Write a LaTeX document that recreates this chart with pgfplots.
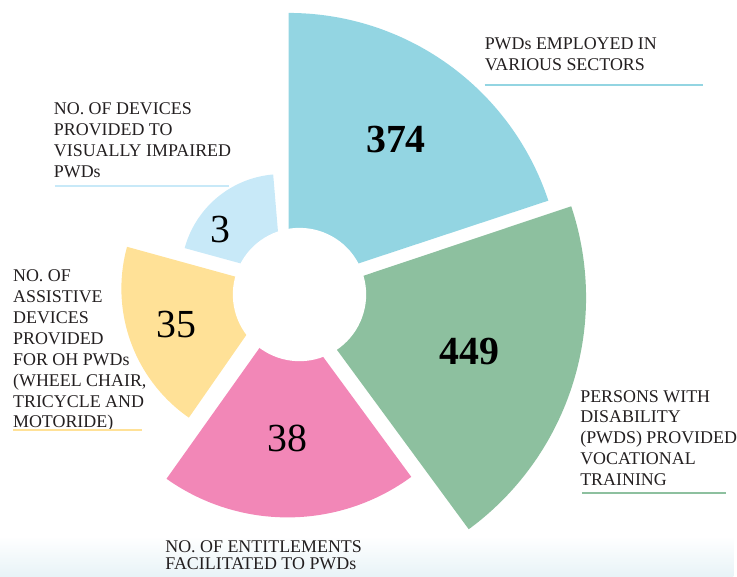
\documentclass[border=0pt]{standalone}
\usepackage{fontspec}
\setmainfont{Liberation Serif}
\usepackage{pgfplots}
\pgfplotsset{compat=1.18}
\definecolor{cblue}{RGB}{147,213,226}
\definecolor{cgreen}{RGB}{141,192,159}
\definecolor{cpink}{RGB}{242,135,183}
\definecolor{cyellow}{RGB}{255,225,151}
\definecolor{clblue}{RGB}{200,233,248}
\definecolor{cband}{RGB}{232,243,247}
\definecolor{ctext}{RGB}{35,31,32}
% sector: colour, vertex x, vertex y, start angle, end angle, radius
\newcommand\sector[6]{%
  \addplot[fill=#1, draw=none, domain=#4:#5, samples=90, variable=\t]
    ({#2+#6*cos(\t)},{#3+#6*sin(\t)}) -- (axis cs:#2,#3) -- cycle;}
\begin{document}
\begin{tikzpicture}
\begin{axis}[scale only axis, width=737pt, height=579pt,
  xmin=0, xmax=737, ymin=0, ymax=579, hide axis, clip=false]
\path (rel axis cs:0,0) rectangle (rel axis cs:1,1);
\fill[top color=white, bottom color=cband, draw=none] (axis cs:0,0) rectangle (axis cs:737,40);
% radial bars (value shown as label; radius as drawn)
\sector{cblue}{290}{291}{18.3}{90}{275}
\sector{cgreen}{300}{280}{-53.7}{18.5}{289}
\sector{cpink}{289}{269}{-125.4}{-53.7}{210}
\sector{cyellow}{280}{289}{164.6}{235.2}{158}
\sector{clblue}{283}{303}{94.8}{164.7}{101}
\addplot[fill=white, draw=none, domain=0:360, samples=90, variable=\t]
  ({301+67*cos(\t)},{283+67*sin(\t)}) -- cycle;
% values
\node[font={\fontsize{40}{40}\selectfont\bfseries}, text=black] at (axis cs:398,439) {374};
\node[font={\fontsize{40}{40}\selectfont\bfseries}, text=black] at (axis cs:472,226) {449};
\node[font={\fontsize{40}{40}\selectfont}, text=black] at (axis cs:289,138) {38};
\node[font={\fontsize{40}{40}\selectfont}, text=black] at (axis cs:177,253) {35};
\node[font={\fontsize{40}{40}\selectfont}, text=black] at (axis cs:222,348) {3};
% labels
\tikzset{lab/.style={anchor=north west, inner sep=0pt, align=left, text=ctext,
  font={\fontsize{18}{21}\selectfont}}}
\node[lab] at (axis cs:487,541) {PWDs EMPLOYED IN\\VARIOUS SECTORS};
\draw[cblue, line width=2pt] (axis cs:487,494) -- (axis cs:707,494);
\node[lab] at (axis cs:54,476) {NO. OF DEVICES\\PROVIDED TO\\VISUALLY IMPAIRED\\PWDs};
\draw[clblue, line width=2pt] (axis cs:55,392) -- (axis cs:230,392);
\node[lab] at (axis cs:13,308) {NO. OF\\ASSISTIVE\\DEVICES\\PROVIDED\\FOR OH PWDs\\(WHEEL CHAIR,\\TRICYCLE AND\\MOTORIDE)};
\draw[cyellow, line width=2pt] (axis cs:13,147) -- (axis cs:143,147);
\node[lab] at (axis cs:583,187) {PERSONS WITH\\DISABILITY\\(PWDS) PROVIDED\\VOCATIONAL\\TRAINING};
\draw[cgreen, line width=2pt] (axis cs:585,84) -- (axis cs:730,84);
\node[lab, font={\fontsize{18}{17.5}\selectfont}] at (axis cs:166,36) {NO. OF ENTITLEMENTS\\FACILITATED TO PWDs};
\end{axis}
\end{tikzpicture}
\end{document}
